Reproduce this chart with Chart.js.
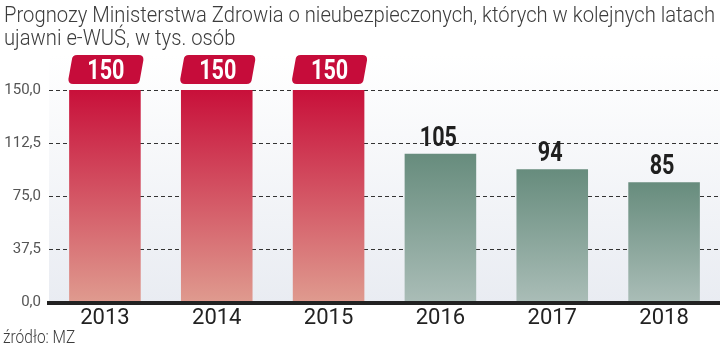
<!DOCTYPE html>
<html>
<head>
  <meta charset="utf-8">
  <title>Prognozy MZ e-WUŚ</title>
  <script src="https://cdn.jsdelivr.net/npm/chart.js"></script>
  <style>
    html, body { margin: 0; padding: 0; background: #fff; }
    #wrap { width: 720px; height: 347px; }
  </style>
</head>
<body>
  <div id="wrap"><canvas id="ewus"></canvas></div>
  <script>
    const years = ['2013', '2014', '2015', '2016', '2017', '2018'];
    const uninsured = [150, 150, 150, 105, 94, 85];
    const yTicks = [0, 37.5, 75, 112.5, 150];
    const titleLines = [
      'Prognozy Ministerstwa Zdrowia o nieubezpieczonych, których w kolejnych latach',
      'ujawni e-WUŚ, w tys. osób'
    ];
    const source = 'źródło: MZ';

    // first three years get the red badge style, the rest are green
    const isRed = i => i < 3;

    const barFill = (c) => {
      const chart = c.chart;
      const area = chart.chartArea;
      if (!area) return '#c8143c';
      const y = chart.scales.y;
      const top = y.getPixelForValue(uninsured[c.dataIndex]);
      const g = chart.ctx.createLinearGradient(0, top, 0, area.bottom);
      if (isRed(c.dataIndex)) {
        g.addColorStop(0, '#c8103a');
        g.addColorStop(1, '#df9b8f');
      } else {
        g.addColorStop(0, '#678c7d');
        g.addColorStop(1, '#aabdb7');
      }
      return g;
    };

    // narrow text: squeeze the glyphs horizontally by sx
    function narrowText(ctx, text, x, y, sx, align) {
      const w = ctx.measureText(text).width * sx;
      let left = x;
      if (align === 'center') left = x - w / 2;
      ctx.save();
      ctx.textAlign = 'left';
      ctx.translate(left, y);
      ctx.scale(sx, 1);
      ctx.fillText(text, 0, 0);
      ctx.restore();
    }

    function roundedSlant(ctx, x0, y0, x1, y1, slant, r) {
      ctx.beginPath();
      ctx.moveTo(x0 + slant + r, y0);
      ctx.lineTo(x1 - r, y0);
      ctx.quadraticCurveTo(x1, y0, x1 - 0.3, y0 + r);
      ctx.lineTo(x1 - slant + 0.3, y1 - r);
      ctx.quadraticCurveTo(x1 - slant, y1, x1 - slant - r, y1);
      ctx.lineTo(x0 + r, y1);
      ctx.quadraticCurveTo(x0, y1, x0 + 0.3, y1 - r);
      ctx.lineTo(x0 + slant - 0.3, y0 + r);
      ctx.quadraticCurveTo(x0 + slant, y0, x0 + slant + r, y0);
      ctx.closePath();
    }

    const decor = {
      id: 'decor',
      beforeDraw(chart) {
        const { ctx, chartArea: a, width } = chart;
        ctx.save();
        ctx.fillStyle = '#fff';
        ctx.fillRect(0, 0, width, chart.height);
        const g = ctx.createLinearGradient(0, 55, 0, a.bottom);
        g.addColorStop(0, '#ffffff');
        g.addColorStop(1, '#e9ecf2');
        ctx.fillStyle = g;
        ctx.fillRect(a.left, 55, width - a.left, a.bottom - 55);
        ctx.restore();
      },
      afterDatasetsDraw(chart) {
        const { ctx } = chart;
        const meta = chart.getDatasetMeta(0);
        ctx.save();
        ctx.textBaseline = 'alphabetic';
        ctx.font = 'bold 27px Roboto, sans-serif';
        meta.data.forEach((bar, i) => {
          const v = String(uninsured[i]);
          if (isRed(i)) {
            const half = bar.width / 2;
            ctx.fillStyle = '#c60c3a';
            roundedSlant(ctx, bar.x - half - 1, 55, bar.x + half + 3, 84, 4, 5);
            ctx.fill();
            ctx.fillStyle = '#ffffff';
            narrowText(ctx, v, bar.x + 1, 79, 0.8, 'center');
          } else {
            ctx.fillStyle = '#1f1f1f';
            narrowText(ctx, v, bar.x - 2, bar.y - 8, 0.8, 'center');
          }
        });

        ctx.fillStyle = '#3c3c3c';
        ctx.font = '300 22px Roboto, sans-serif';
        const w0 = ctx.measureText(titleLines[0]).width;
        const sx = 711 / w0;
        narrowText(ctx, titleLines[0], 4, 22, sx, 'left');
        narrowText(ctx, titleLines[1], 4, 45, sx, 'left');
        ctx.font = '300 18px Roboto, sans-serif';
        narrowText(ctx, source, 3, 343, 0.86, 'left');
        ctx.restore();
      }
    };

    new Chart(document.getElementById('ewus'), {
      type: 'bar',
      data: {
        labels: years,
        datasets: [{
          data: uninsured,
          backgroundColor: barFill,
          borderWidth: 0,
          barPercentage: 0.64,
          categoryPercentage: 1
        }]
      },
      options: {
        responsive: true,
        maintainAspectRatio: false,
        animation: false,
        layout: { padding: { top: 90, right: 0, bottom: 12, left: 0 } },
        plugins: { legend: { display: false }, tooltip: { enabled: false } },
        scales: {
          x: {
            grid: { display: false, drawTicks: false },
            border: { display: true, color: '#222', width: 4, z: 2 },
            ticks: { color: '#222', padding: 3, font: { family: 'Roboto', size: 22 } }
          },
          y: {
            min: 0,
            max: 150,
            afterFit(scale) { scale.width = 49; },
            afterBuildTicks(scale) { scale.ticks = yTicks.map(v => ({ value: v })); },
            grid: { color: '#333', lineWidth: 1, drawTicks: false },
            border: { display: false, dash: [4, 3] },
            ticks: {
              padding: 8,
              color: '#555',
              font: { family: 'Roboto', size: 15 },
              callback: v => v.toFixed(1).replace('.', ',')
            }
          }
        }
      },
      plugins: [decor]
    });
  </script>
</body>
</html>
